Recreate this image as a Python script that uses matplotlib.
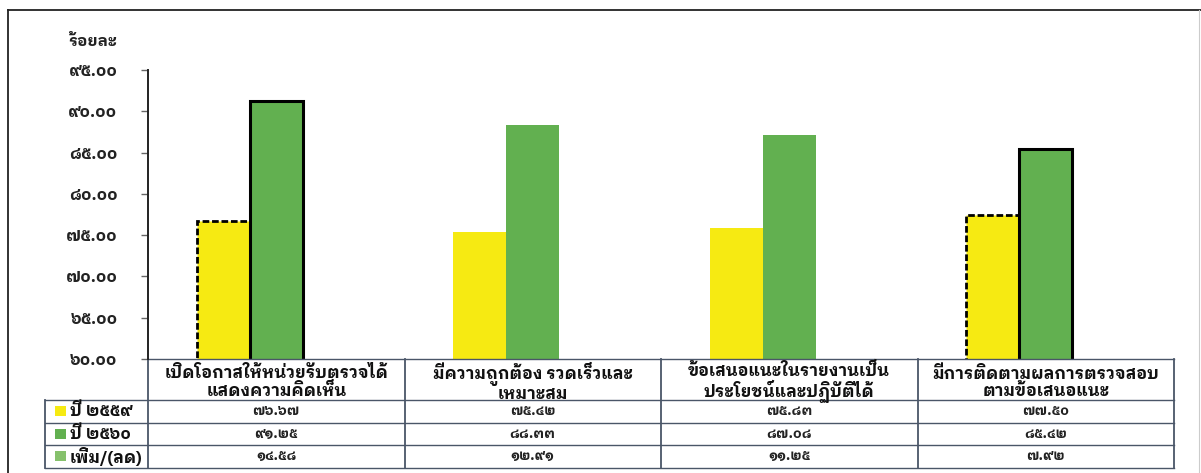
import matplotlib
matplotlib.use("Agg")
import matplotlib.pyplot as plt
import matplotlib.transforms as mtransforms
from matplotlib.patches import Rectangle
from matplotlib.lines import Line2D
import numpy as np

plt.rcParams['font.family'] = ['IBM Plex Sans Thai Looped', 'DejaVu Sans']
plt.rcParams['font.weight'] = 'bold'

# data
categories = [
    "เปิดโอกาสให้หน่วยรับตรวจได้\nแสดงความคิดเห็น",
    "มีความถูกต้อง รวดเร็วและ\nเหมาะสม",
    "ข้อเสนอแนะในรายงานเป็น\nประโยชน์และปฏิบัติได้",
    "มีการติดตามผลการตรวจสอบ\nตามข้อเสนอแนะ",
]
series_names = ["ปี ๒๕๕๙", "ปี ๒๕๖๐", "เพิ่ม/(ลด)"]
y2559 = [76.67, 75.42, 75.83, 77.50]
y2560 = [91.25, 88.33, 87.08, 85.42]
change = [14.58, 12.91, 11.25, 7.92]
yticks = [60, 65, 70, 75, 80, 85, 90, 95]

colors = ["#f6ea12", "#62b050", "#86c16c"]

thai_digits = str.maketrans("0123456789", "๐๑๒๓๔๕๖๗๘๙")


def thai(v):
    return ("%.2f" % v).translate(thai_digits)


W, H = 1201, 473
fig = plt.figure(figsize=(W / 100, H / 100), dpi=100)

# axes box in pixels: x 148..1174, y 70..359
ax = fig.add_axes([148 / W, 1 - 359 / H, (1174 - 148) / W, (359 - 70) / H])

x = np.arange(len(categories))
w = 0.207
series = [y2559, y2560, change]
bars = []
for i, vals in enumerate(series):
    bars.append(ax.bar(x + (i - 1) * w, vals, w, color=colors[i], linewidth=0, zorder=2))

# outlined groups: dashed for 2559, solid for 2560
for j in (0, 3):
    p = bars[0][j]
    p.set_edgecolor("black")
    p.set_linewidth(2.0)
    p.set_linestyle((0, (2.4, 1.0)))
    q = bars[1][j]
    q.set_edgecolor("black")
    q.set_linewidth(2.2)

ax.set_xlim(-0.5, len(categories) - 0.5)
ax.set_ylim(60, 95)
ax.set_yticks(yticks)
ax.set_yticklabels([thai(t) for t in yticks], fontsize=12, color="#222222")
ax.tick_params(axis="y", length=5, width=1, color="#666666", pad=17)
ax.set_xticks([])
for s in ("top", "right", "bottom"):
    ax.spines[s].set_visible(False)
ax.spines["left"].set_linewidth(1.4)
ax.spines["left"].set_color("#222222")

tr = mtransforms.blended_transform_factory(ax.transData, ax.transAxes)


def ypx(py):
    return (359 - py) / 289.0


def xpx(px):
    return (px - 148) / 256.5 - 0.5


ax.text(xpx(93), ypx(42), "ร้อยละ", transform=tr, ha="center", va="center",
        fontsize=11.5, color="#222222", clip_on=False)

# data table under the axes
left_col = xpx(45)
edges = np.arange(len(categories) + 1) - 0.5
row_lines = [ypx(400), ypx(422.5), ypx(445), ypx(467.5)]
line_kw = dict(transform=tr, clip_on=False, color="#4a5668")

# horizontal lines
ax.add_line(Line2D([edges[0], edges[-1]], [0, 0], lw=1.0, **line_kw))
for yy in row_lines:
    ax.add_line(Line2D([left_col, edges[-1]], [yy, yy], lw=1.0, **line_kw))
# vertical lines
for e in edges:
    ax.add_line(Line2D([e, e], [0, row_lines[-1]], lw=1.3, **line_kw))
ax.add_line(Line2D([left_col, left_col], [row_lines[0], row_lines[-1]], lw=1.3, **line_kw))

# header text
for i, c in enumerate(categories):
    ax.text(i, ypx(382), c, transform=tr, ha="center", va="center", fontsize=12,
            linespacing=1.05, color="#111111", clip_on=False)

# rows
row_mid = [ypx(411), ypx(433.5), ypx(456)]
for r, (name, vals) in enumerate(zip(series_names, series)):
    ax.add_patch(Rectangle((xpx(55), row_mid[r] - 5 / 289), 11 / 256.5, 10 / 289, transform=tr,
                           facecolor=colors[r], edgecolor="none", clip_on=False))
    ax.text(xpx(70), row_mid[r], name, transform=tr, ha="left", va="center",
            fontsize=12, color="#111111", clip_on=False)
    for i, v in enumerate(vals):
        ax.text(i, row_mid[r], thai(v), transform=tr, ha="center", va="center",
                fontsize=10, color="#222222", clip_on=False)

# outer frame
fig.add_artist(Line2D([8 / W, 1], [1 - 10 / H, 1 - 10 / H], transform=fig.transFigure, color="#222222", lw=1.3))
fig.add_artist(Line2D([8 / W, 8 / W], [0, 1 - 10 / H], transform=fig.transFigure, color="#222222", lw=1.3))
fig.add_artist(Line2D([1199 / W, 1199 / W], [0, 1 - 10 / H], transform=fig.transFigure, color="#cccccc", lw=0.8))

fig.savefig("out.png", dpi=100)
